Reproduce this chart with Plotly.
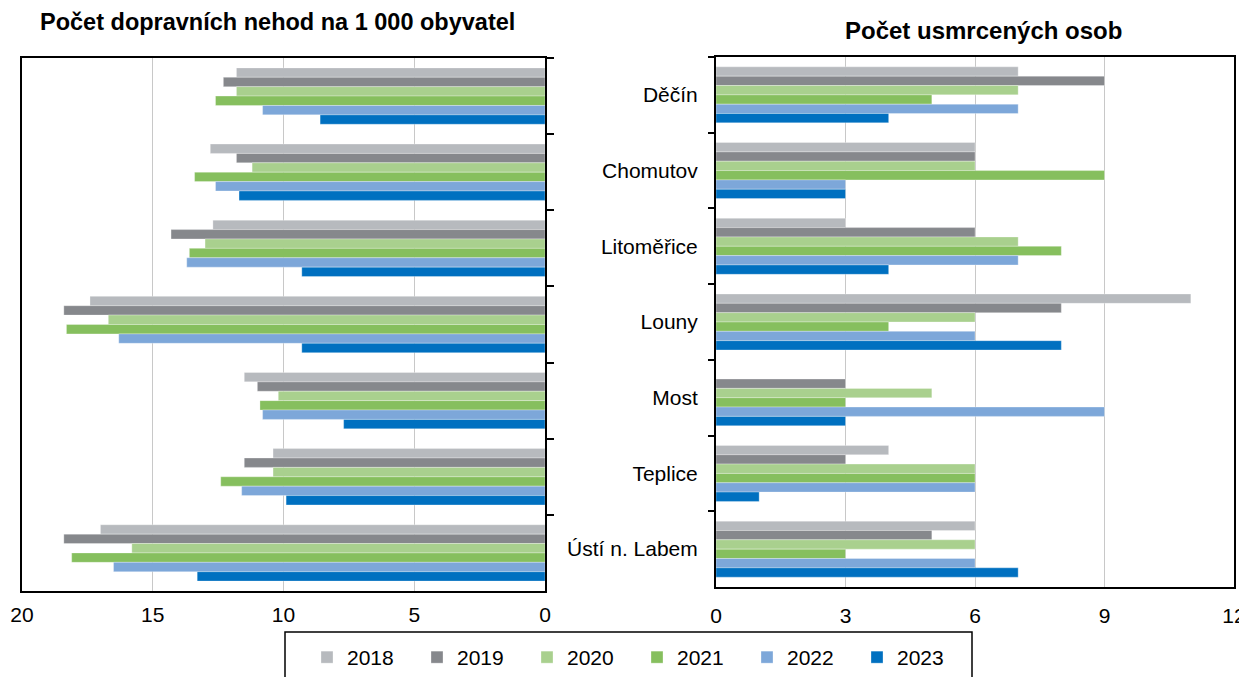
import plotly.graph_objects as go

# data
okresy = ["Děčín", "Chomutov", "Litoměřice", "Louny", "Most", "Teplice", "Ústí n. Labem"]
roky = ["2018", "2019", "2020", "2021", "2022", "2023"]

# Počet dopravních nehod na 1 000 obyvatel (one list per year, okresy order)
nehody_2018 = [11.8, 12.8, 12.7, 17.4, 11.5, 10.4, 17.0]
nehody_2019 = [12.3, 11.8, 14.3, 18.4, 11.0, 11.5, 18.4]
nehody_2020 = [11.8, 11.2, 13.0, 16.7, 10.2, 10.4, 15.8]
nehody_2021 = [12.6, 13.4, 13.6, 18.3, 10.9, 12.4, 18.1]
nehody_2022 = [10.8, 12.6, 13.7, 16.3, 10.8, 11.6, 16.5]
nehody_2023 = [8.6, 11.7, 9.3, 9.3, 7.7, 9.9, 13.3]

# Počet usmrcených osob
umrti_2018 = [7, 6, 3, 11, 0, 4, 6]
umrti_2019 = [9, 6, 6, 8, 3, 3, 5]
umrti_2020 = [7, 6, 7, 6, 5, 6, 6]
umrti_2021 = [5, 9, 8, 4, 3, 6, 3]
umrti_2022 = [7, 3, 7, 6, 9, 6, 6]
umrti_2023 = [4, 3, 4, 8, 3, 1, 7]

nehody = [nehody_2018, nehody_2019, nehody_2020, nehody_2021, nehody_2022, nehody_2023]
umrti = [umrti_2018, umrti_2019, umrti_2020, umrti_2021, umrti_2022, umrti_2023]

BARVY = ["#B7BABE", "#86888C", "#A9D08E", "#86BF5E", "#7DA7D9", "#0070C0"]
FONT = "Liberation Sans, Arial, sans-serif"
W, H = 1247, 677
OFF = 8  # page body margin


def px(x):
    return (x - OFF) / W


def py(y):
    return 1 - (y - OFF) / H


fig = go.Figure()

for i, rok in enumerate(roky):
    fig.add_trace(go.Bar(
        x=nehody[i], y=okresy, orientation="h", name=rok,
        marker=dict(color=BARVY[i], line=dict(width=0.5, color="rgba(255,255,255,0.6)")),
        xaxis="x", yaxis="y", legendgroup=rok, showlegend=True,
    ))
    fig.add_trace(go.Bar(
        x=umrti[i], y=okresy, orientation="h", name=rok,
        marker=dict(color=BARVY[i], line=dict(width=0.5, color="rgba(255,255,255,0.6)")),
        xaxis="x2", yaxis="y2", legendgroup=rok, showlegend=False,
    ))

axis_common = dict(showline=True, linecolor="black", linewidth=2, mirror=True,
                   automargin=False, tickfont=dict(family=FONT, size=21, color="black"))

fig.update_layout(
    width=W, height=H,
    margin=dict(l=0, r=0, t=0, b=0),
    paper_bgcolor="white", plot_bgcolor="white",
    font=dict(family=FONT, size=21, color="black"),
    barmode="group", bargap=0.26, bargroupgap=0,
    xaxis=dict(domain=[px(22), px(545)], range=[20, 0], dtick=5,
               showgrid=True, gridcolor="#C8C8C8", gridwidth=1, zeroline=False,
               ticks="", ticklabelstandoff=4, ticklabeloverflow="allow", anchor="y",
               **axis_common),
    yaxis=dict(domain=[py(591), py(58)], type="category", autorange="reversed",
               side="right", showticklabels=False, ticks="outside", ticklen=7,
               tickcolor="black", tickwidth=2, tickson="boundaries", anchor="x",
               showgrid=False, **axis_common),
    xaxis2=dict(domain=[px(716), px(1234)], range=[0, 12], dtick=3,
                showgrid=True, gridcolor="#C8C8C8", gridwidth=1, zeroline=False,
                ticks="", ticklabelstandoff=9, ticklabeloverflow="allow", anchor="y2",
                **axis_common),
    yaxis2=dict(domain=[py(587), py(57)], type="category", autorange="reversed",
                side="left", ticks="outside", ticklen=6, tickcolor="black", tickwidth=2,
                tickson="boundaries", ticklabelstandoff=12, anchor="x2", showgrid=False,
                **axis_common),
    legend=dict(orientation="h", x=px(307), xanchor="left", y=py(637), yanchor="top",
                borderwidth=0, bgcolor="rgba(0,0,0,0)",
                font=dict(family=FONT, size=21, color="black"),
                entrywidth=65, traceorder="normal"),
    shapes=[dict(type="rect", xref="paper", yref="paper",
                 x0=px(285), x1=px(972), y0=py(700), y1=py(632),
                 line=dict(color="black", width=1.5), fillcolor="rgba(0,0,0,0)")],
    annotations=[
        dict(text="<b>Počet dopravních nehod na 1 000 obyvatel</b>", x=px(277), y=py(22),
             xref="paper", yref="paper", showarrow=False, xanchor="center", yanchor="middle",
             font=dict(family=FONT, size=23.5, color="black")),
        dict(text="<b>Počet usmrcených osob</b>", x=px(983), y=py(30),
             xref="paper", yref="paper", showarrow=False, xanchor="center", yanchor="middle",
             font=dict(family=FONT, size=24, color="black")),
    ],
)

fig.write_html("out.html")
